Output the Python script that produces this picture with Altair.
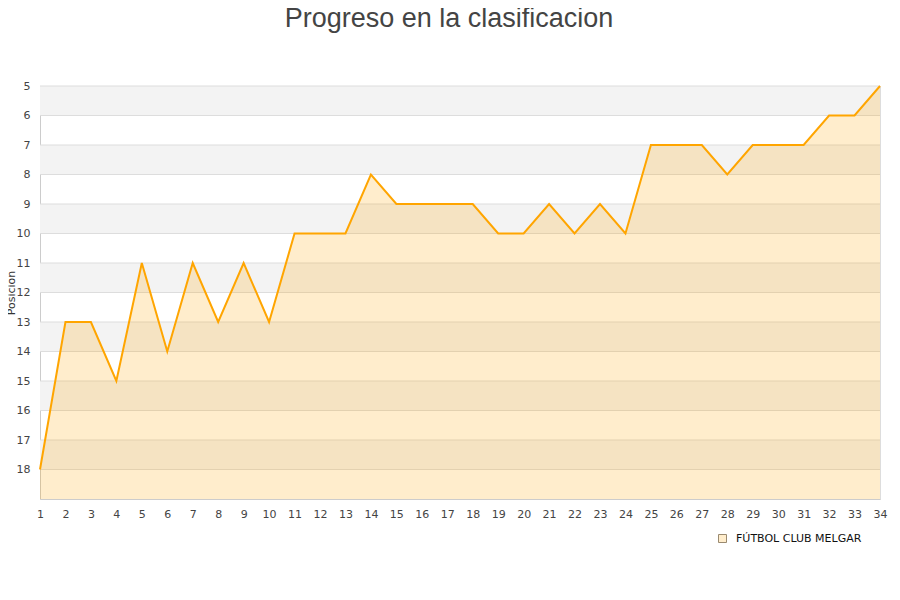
import altair as alt
import pandas as pd

jornadas = list(range(1, 35))
posiciones = [18, 13, 13, 15, 11, 14, 11, 13, 11, 13, 10, 10, 10, 8, 9, 9, 9, 9,
              10, 10, 9, 10, 9, 10, 7, 7, 7, 8, 7, 7, 7, 6, 6, 5]
equipo = "FÚTBOL CLUB MELGAR"
band_start = [5, 7, 9, 11, 13, 15, 17]
y_ticks = list(range(5, 19))

df = pd.DataFrame({"jornada": jornadas, "pos": posiciones, "equipo": [equipo] * len(jornadas)})
bands = pd.DataFrame({"y0": band_start, "y1": [b + 1 for b in band_start]})
grid = pd.DataFrame({"g": y_ticks})

FONT = "DejaVu Sans"

xscale = alt.Scale(domain=[1, 34], nice=False, zero=False)
yscale = alt.Scale(domain=[5, 19], reverse=True, nice=False, zero=False)

xaxis = alt.Axis(values=jornadas, format="d", title=None, ticks=False,
                 grid=False, labelPadding=9, domainColor="#cccccc",
                 labelOverlap=False, labelFlush=False)
yaxis = alt.Axis(values=y_ticks, format="d", title="Posicion", ticks=False,
                 grid=False, labelPadding=10, domainColor="#cccccc",
                 labelOverlap=False, labelFlush=False,
                 titlePadding=0, titleFontWeight="normal", titleFontSize=11,
                 titleFont=FONT, titleColor="#333333")

band_layer = alt.Chart(bands).mark_rect(color="#f3f3f3").encode(
    y=alt.Y("y0:Q", scale=yscale, axis=yaxis),
    y2="y1:Q",
    x=alt.value(0),
    x2=alt.value(840),
)

grid_layer = alt.Chart(grid).mark_rule(color="#dddddd", strokeWidth=1).encode(
    y=alt.Y("g:Q", scale=yscale, axis=yaxis),
    x=alt.value(0),
    x2=alt.value(840),
)

area = alt.Chart(df).mark_area(opacity=0.2, interpolate="linear", color="#ffa500").encode(
    x=alt.X("jornada:Q", scale=xscale, axis=xaxis),
    y=alt.Y("pos:Q", scale=yscale, axis=yaxis),
    y2=alt.datum(19),
)

legend_layer = alt.Chart(df).mark_point(shape="square", filled=True, opacity=0).encode(
    x=alt.X("jornada:Q", scale=xscale, axis=xaxis),
    y=alt.Y("pos:Q", scale=yscale, axis=yaxis),
    fill=alt.Fill("equipo:N", scale=alt.Scale(range=["#ffedcc"]),
                  legend=alt.Legend(title=None, orient="none", legendX=677, legendY=447,
                                    symbolType="square", symbolSize=64,
                                    symbolStrokeWidth=1, symbolOpacity=1,
                                    symbolStrokeColor="#9a8a70",
                                    labelFont=FONT, labelFontSize=11, labelColor="#111111",
                                    labelOffset=8, padding=0)),
)

line = alt.Chart(df).mark_line(color="#ffa500", strokeWidth=2, interpolate="linear").encode(
    x=alt.X("jornada:Q", scale=xscale, axis=xaxis),
    y=alt.Y("pos:Q", scale=yscale, axis=yaxis),
)

chart = alt.layer(band_layer, grid_layer, area, legend_layer, line).properties(
    width=840,
    height=413,
    autosize=alt.AutoSizeParams(type="none"),
    padding={"left": 32, "top": 78, "right": 12, "bottom": 60},
    title=alt.Title("Progreso en la clasificacion", font="Liberation Sans", fontSize=27,
                    fontWeight="normal", color="#444444", anchor="middle", dx=-11,
                    offset=47, frame="group"),
).configure_view(stroke="#dddddd").configure_axis(
    labelFont=FONT, labelFontSize=11, labelColor="#444444"
)

chart.save("out.html", embed_options={"renderer": "svg", "actions": False})
